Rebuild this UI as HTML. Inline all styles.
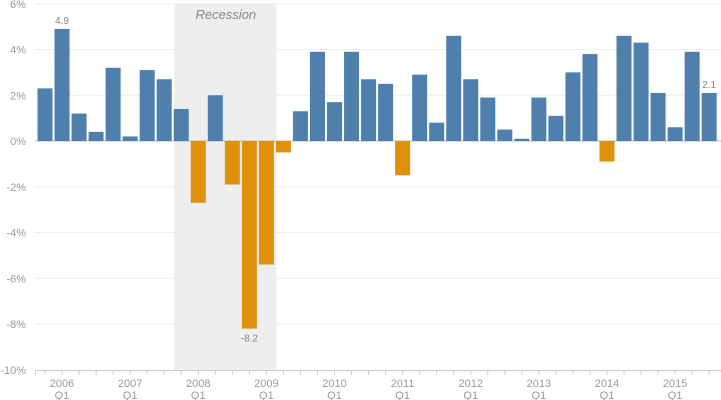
<!DOCTYPE html>
<html><head><meta charset="utf-8"><style>
body{margin:0;background:#fff;}
svg{display:block;font-family:"Liberation Sans",sans-serif;}
</style></head><body>
<svg id="chart" width="721" height="400"></svg>
<script>
const values=[2.3,4.9,1.2,0.4,3.2,0.2,3.1,2.7,1.4,-2.7,2.0,-1.9,-8.2,-5.4,-0.5,1.3,3.9,1.7,3.9,2.7,2.5,-1.5,2.9,0.8,4.6,2.7,1.9,0.5,0.1,1.9,1.1,3.0,3.8,-0.9,4.6,4.3,2.1,0.6,3.9,2.1];
const yearLabels=["2006","2007","2008","2009","2010","2011","2012","2013","2014","2015"];
const yTicks=[6,4,2,0,-2,-4,-6,-8,-10];
const labeled={1:"4.9",12:"-8.2",39:"2.1"};
const recession=[8,13];
const NS="http://www.w3.org/2000/svg";
const svg=document.getElementById('chart');
const x0=45,step=17.03,bw=15;
const y=v=>141-v*22.875;
const x=i=>x0+i*step;
function mk(t,a,p){const e=document.createElementNS(NS,t);for(const k in a)e.setAttribute(k,a[k]);(p||svg).appendChild(e);return e;}
let r=mk('rect',{x:x(recession[0])-bw/2+0.5,y:4,width:x(recession[1])-x(recession[0])+bw+2,height:366,fill:'#eeeeee'});


let rt=mk('text',{x:(x(recession[0])+x(recession[1]))/2+2,y:19,'text-anchor':'middle','font-size':13,'font-style':'italic',fill:'#888'});
rt.textContent='Recession';


yTicks.forEach(v=>{
 if(v!==-10){let g=mk('line',{x1:35,x2:721,y1:y(v),y2:y(v),stroke:v===0?'#bbb':'#eeeeee','stroke-width':1});
 
 }
 let t=mk('text',{x:26,y:y(v)+4,'text-anchor':'end','font-size':11,fill:'#999'});
 t.textContent=v+'%';
 
 
});
values.forEach((v,i)=>{
 let b=mk('rect',{x:x(i)-bw/2,y:Math.min(y(v),y(0)),width:bw,height:Math.abs(y(v)-y(0)),fill:v>=0?'#4e7fad':'#e0900a'});
 
 
 if(labeled[i]){let t=mk('text',{x:x(i),y:v>=0?y(v)-5:y(v)+13,'text-anchor':'middle','font-size':10,fill:'#888'});
 t.textContent=labeled[i];
 
 }
 let tk=mk('line',{x1:x(i),x2:x(i),y1:370,y2:375,stroke:'#ccc'});
 
 
});
let ax=mk('line',{x1:35,x2:721,y1:370.5,y2:370.5,stroke:'#ccc'});


let lt=mk('line',{x1:35.5,x2:35.5,y1:370,y2:375,stroke:'#ccc'});


yearLabels.forEach((yr,k)=>{
 const cx=x(1+4*k);
 let t=mk('text',{x:cx,y:387,'text-anchor':'middle','font-size':11,fill:'#999'});
 t.textContent=yr;
 
 
 let q=mk('text',{x:cx,y:399,'text-anchor':'middle','font-size':11,fill:'#999'});
 q.textContent='Q1';
 
 
});
</script>
</body></html>
